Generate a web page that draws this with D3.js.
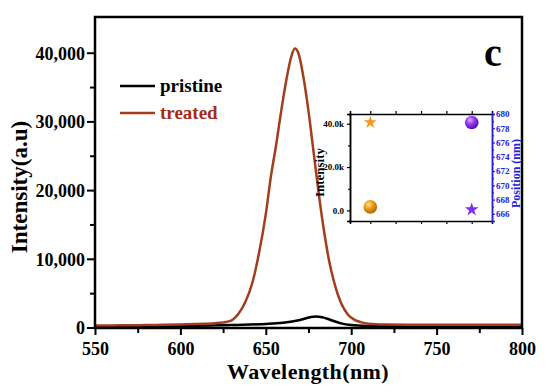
<!DOCTYPE html>
<html>
<head>
<meta charset="utf-8">
<script src="https://cdn.jsdelivr.net/npm/d3@7"></script>
<style>
  body { margin: 0; background: #fff; }
  text { font-family: "Liberation Serif", "Times New Roman", serif; font-weight: bold; }
</style>
</head>
<body>
<div id="chart"></div>
<script>
// PL spectra data
var treatedWl  = [550, 560, 570, 580, 590, 600, 610, 620, 625, 630, 634, 638, 642, 646, 650, 653, 656, 659, 662, 665, 667, 669, 672, 675, 678, 681, 684, 687, 690, 694, 698, 702, 706, 710, 720, 740, 760, 780, 800];
var treatedInt = [290, 300, 320, 350, 390, 440, 520, 620, 740, 1050, 2000, 3700, 6400, 10800, 16500, 22000, 26500, 31500, 36000, 39500, 40600, 40000, 36500, 31500, 25500, 19500, 14200, 9800, 6600, 3600, 1900, 1100, 750, 560, 450, 410, 400, 390, 390];

var pristineWl  = [550, 570, 590, 610, 630, 650, 660, 670, 676, 679, 683, 688, 694, 700, 710, 730, 760, 800];
var pristineInt = [80, 110, 160, 250, 380, 520, 700, 1100, 1500, 1600, 1500, 1100, 600, 350, 230, 170, 150, 140];

var xTicks = [550, 600, 650, 700, 750, 800];
var yTicks = [0, 10000, 20000, 30000, 40000];

// inset: peak intensity (left axis) and peak position (right axis)
var insetX = [1, 2];
var insetIntensity = [40600, 1600];   // star = treated, sphere = pristine
var insetPosition = [666.6, 678.8];   // star = treated, sphere = pristine
var insetLeftTicks = [0, 20000, 40000];
var insetRightTicks = [666, 668, 670, 672, 674, 676, 678, 680];

var svgWidth = 550, svgHeight = 392;
var margin = { top: 17, right: 28, bottom: 64, left: 95 };
var width = svgWidth - margin.left - margin.right;
var height = svgHeight - margin.top - margin.bottom;

var svg = d3.select("#chart").append("svg")
  .attr("width", svgWidth)
  .attr("height", svgHeight);

var g = svg.append("g")
  .attr("transform", `translate(${margin.left},${margin.top})`);

var x = d3.scaleLinear().domain([550, 800]).range([0, width]);
var y = d3.scaleLinear().domain([0, 45200]).range([height - 0.5, 0]);

// axes
var xAxis = d3.axisBottom(x).tickValues(xTicks).tickSize(7).tickFormat(d3.format("d"));
var xMinor = d3.axisBottom(x).tickValues(d3.range(575, 800, 50)).tickSize(5).tickFormat("");
var yAxis = d3.axisLeft(y).tickValues(yTicks).tickSize(8).tickFormat(d3.format(","));
var yMinor = d3.axisLeft(y).tickValues([5000, 15000, 25000, 35000]).tickSize(5).tickFormat("");

function styleAxis(sel, fs) {
  sel.select(".domain").remove();
  sel.selectAll("line").attr("stroke", "#000").attr("stroke-width", 2);
  sel.selectAll("text").style("font-size", fs + "px").attr("fill", "#000");
}

g.append("g").attr("transform", `translate(0,${height})`).call(xAxis)
  .call(s => styleAxis(s, 18))
  .selectAll("text").attr("dy", "0.95em");
g.append("g").attr("transform", `translate(0,${height})`).call(xMinor).call(s => styleAxis(s, 18));
g.append("g").call(yAxis).call(s => styleAxis(s, 18))
  .selectAll("text").attr("x", -10).attr("dy", "0.35em");
g.append("g").call(yMinor).call(s => styleAxis(s, 18));

// lines
var treated = treatedWl.map((w, i) => ({ w: w, v: treatedInt[i] }));
var pristine = pristineWl.map((w, i) => ({ w: w, v: pristineInt[i] }));
var line = d3.line().x(d => x(d.w)).y(d => y(d.v)).curve(d3.curveMonotoneX);

g.append("path").datum(pristine)
  .attr("d", line).attr("fill", "none")
  .attr("stroke", "#000").attr("stroke-width", 2.5);
g.append("path").datum(treated)
  .attr("d", line).attr("fill", "none")
  .attr("stroke", "#a23e1c").attr("stroke-width", 2.5);

// frame
g.append("rect").attr("width", width).attr("height", height)
  .attr("fill", "none").attr("stroke", "#000").attr("stroke-width", 2.5);

// legend
var legend = g.append("g").attr("transform", "translate(25,69)");
legend.append("line").attr("x1", 0).attr("x2", 35).attr("y1", 0).attr("y2", 0)
  .attr("stroke", "#000").attr("stroke-width", 2.5);
legend.append("text").attr("x", 40).attr("y", 6).style("font-size", "19px").text("pristine");
legend.append("line").attr("x1", 0).attr("x2", 35).attr("y1", 27).attr("y2", 27)
  .attr("stroke", "#a23e1c").attr("stroke-width", 2.5);
legend.append("text").attr("x", 40).attr("y", 33).style("font-size", "19px")
  .attr("fill", "#a52a18").text("treated");

// panel letter
g.append("text").attr("x", 398).attr("y", 49).attr("text-anchor", "middle")
  .style("font-size", "40px").text("c");

// axis titles
svg.append("text").attr("x", 308).attr("y", 379).attr("text-anchor", "middle")
  .style("font-size", "22px").style("letter-spacing", "0.4px").text("Wavelength(nm)");
svg.append("text").attr("transform", "translate(27,187) rotate(-90)")
  .attr("text-anchor", "middle").style("font-size", "23px").text("Intensity(a.u)");

// ---------- inset ----------
var ix0 = 350, iy0 = 114, iw = 142, ih = 107;
var inset = svg.append("g").attr("transform", `translate(${ix0},${iy0})`);
var ix = d3.scaleLinear().domain([0.8, 2.2]).range([0, iw]);
var iyL = d3.scaleLinear().domain([-4900, 44500]).range([ih, 0]);
var iyR = d3.scaleLinear().domain([665, 680]).range([ih, 0]);

var defs = svg.append("defs");
function sphereGrad(id, light, mid, dark) {
  var gr = defs.append("radialGradient").attr("id", id)
    .attr("cx", "38%").attr("cy", "32%").attr("r", "65%");
  gr.append("stop").attr("offset", "0%").attr("stop-color", light);
  gr.append("stop").attr("offset", "45%").attr("stop-color", mid);
  gr.append("stop").attr("offset", "100%").attr("stop-color", dark);
}
sphereGrad("gOrange", "#ffe08a", "#f0a020", "#b86a00");
sphereGrad("gPurple", "#e0b0ff", "#9b3cf5", "#5a10b0");

function insetAxis(sel, color) {
  sel.select(".domain").attr("stroke", color).attr("stroke-width", 1.5);
  sel.selectAll("line").attr("stroke", color).attr("stroke-width", 1.2);
  sel.selectAll("text").style("font-size", "9px").attr("fill", color);
}

inset.append("g").attr("transform", `translate(0,${ih})`)
  .call(d3.axisBottom(ix).tickValues([1, 1.25, 1.5, 1.75, 2]).tickSize(3).tickFormat(""))
  .call(s => insetAxis(s, "#000"));
inset.append("g")
  .call(d3.axisTop(ix).tickValues([1, 1.25, 1.5, 1.75, 2]).tickSize(3).tickFormat(""))
  .call(s => insetAxis(s, "#000"));
inset.append("g")
  .call(d3.axisLeft(iyL).tickValues(insetLeftTicks).tickSize(3).tickFormat(d => d === 0 ? "0.0" : (d / 1000).toFixed(1) + "k"))
  .call(s => insetAxis(s, "#000"));
inset.append("g")
  .call(d3.axisLeft(iyL).tickValues([10000, 30000]).tickSize(2).tickFormat(""))
  .call(s => insetAxis(s, "#000"));
inset.append("g").attr("transform", `translate(${iw},0)`)
  .call(d3.axisRight(iyR).tickValues(insetRightTicks).tickSize(3).tickFormat(d3.format("d")))
  .call(s => insetAxis(s, "#2222dd"))
  .selectAll("text").attr("x", 4);
inset.append("g").attr("transform", `translate(${iw},0)`)
  .call(d3.axisRight(iyR).tickValues(d3.range(665, 680, 2)).tickSize(2).tickFormat(""))
  .call(s => insetAxis(s, "#2222dd"));

var star = d3.symbol().type(d3.symbolStar);

// intensity (orange)
inset.append("path").attr("d", star.size(52)())
  .attr("transform", `translate(${ix(insetX[0])},${iyL(insetIntensity[0])})`)
  .attr("fill", "#f39a1e");
inset.append("circle").attr("cx", ix(insetX[0])).attr("cy", iyL(insetIntensity[1]))
  .attr("r", 6.8).attr("fill", "url(#gOrange)");

// position (purple)
inset.append("path").attr("d", star.size(58)())
  .attr("transform", `translate(${ix(insetX[1])},${iyR(insetPosition[0])})`)
  .attr("fill", "#7d2ef2");
inset.append("circle").attr("cx", ix(insetX[1])).attr("cy", iyR(insetPosition[1]))
  .attr("r", 6.8).attr("fill", "url(#gPurple)");

inset.append("text").attr("transform", `translate(-26,${ih / 2 + 5}) rotate(-90)`)
  .attr("text-anchor", "middle").style("font-size", "13px").text("Intensity");
inset.append("text").attr("transform", `translate(${iw + 28},${ih / 2 + 6}) rotate(-90)`)
  .attr("text-anchor", "middle").style("font-size", "12px").attr("fill", "#2222dd")
  .text("Position (nm)");
</script>
</body>
</html>
